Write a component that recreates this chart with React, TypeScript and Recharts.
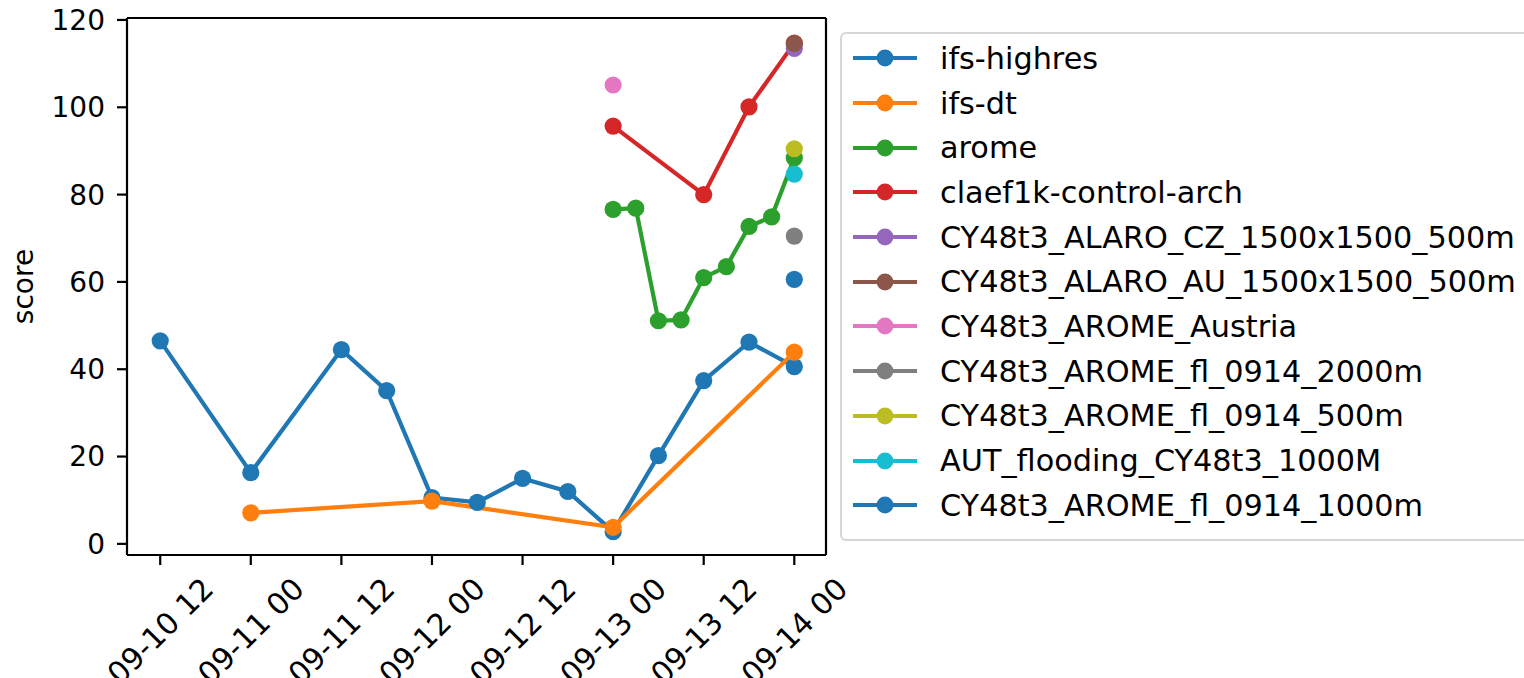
import React from 'react';
import { LineChart, Line, XAxis, YAxis, Legend, ReferenceLine } from 'recharts';

const FONT = '"DejaVu Sans", "Liberation Sans", sans-serif';

// ---- tick labels ----
const xTickLabels = ['09-10 12', '09-11 00', '09-11 12', '09-12 00', '09-12 12', '09-13 00', '09-13 12', '09-14 00'];
const yTicks = [0, 20, 40, 60, 80, 100, 120];

// ---- series names & colours ----
const seriesNames = [
  'ifs-highres',
  'ifs-dt',
  'arome',
  'claef1k-control-arch',
  'CY48t3_ALARO_CZ_1500x1500_500m',
  'CY48t3_ALARO_AU_1500x1500_500m',
  'CY48t3_AROME_Austria',
  'CY48t3_AROME_fl_0914_2000m',
  'CY48t3_AROME_fl_0914_500m',
  'AUT_flooding_CY48t3_1000M',
  'CY48t3_AROME_fl_0914_1000m',
];
const seriesColors = [
  '#1f77b4', '#ff7f0e', '#2ca02c', '#d62728', '#9467bd', '#8c564b',
  '#e377c2', '#7f7f7f', '#bcbd22', '#17becf', '#1f77b4',
];

// ---- series values ----
const ifsHighresTimes = ['09-10 12', '09-11 00', '09-11 12', '09-11 18', '09-12 00', '09-12 06', '09-12 12', '09-12 18', '09-13 00', '09-13 06', '09-13 12', '09-13 18', '09-14 00'];
const ifsHighresValues = [46.5, 16.3, 44.5, 35.1, 10.6, 9.5, 15.0, 12.0, 2.8, 20.2, 37.4, 46.2, 40.6];

const ifsDtTimes = ['09-11 00', '09-12 00', '09-13 00', '09-14 00'];
const ifsDtValues = [7.1, 9.8, 3.8, 43.9];

const aromeTimes = ['09-13 00', '09-13 03', '09-13 06', '09-13 09', '09-13 12', '09-13 15', '09-13 18', '09-13 21', '09-14 00'];
const aromeValues = [76.6, 76.9, 51.1, 51.3, 61.0, 63.5, 72.7, 74.9, 88.4];

const claefTimes = ['09-13 00', '09-13 12', '09-13 18', '09-14 00'];
const claefValues = [95.7, 80.0, 100.1, 114.7];

const alaroCzTimes = ['09-14 00'];
const alaroCzValues = [113.5];
const alaroAuTimes = ['09-14 00'];
const alaroAuValues = [114.6];
const aromeAustriaTimes = ['09-13 00'];
const aromeAustriaValues = [105.1];
const fl2000Times = ['09-14 00'];
const fl2000Values = [70.5];
const fl500Times = ['09-14 00'];
const fl500Values = [90.5];
const autFloodTimes = ['09-14 00'];
const autFloodValues = [84.7];
const fl1000Times = ['09-14 00'];
const fl1000Values = [60.6];

const seriesTimes = [ifsHighresTimes, ifsDtTimes, aromeTimes, claefTimes, alaroCzTimes, alaroAuTimes, aromeAustriaTimes, fl2000Times, fl500Times, autFloodTimes, fl1000Times];
const seriesValues = [ifsHighresValues, ifsDtValues, aromeValues, claefValues, alaroCzValues, alaroAuValues, aromeAustriaValues, fl2000Values, fl500Values, autFloodValues, fl1000Values];

// hours since 09-10 12
const toHours = (s: string) => (parseInt(s.slice(3, 5), 10) - 10) * 24 + parseInt(s.slice(6, 8), 10) - 12;

const xTicks = xTickLabels.map(toHours);
const X_MIN = -4.4;
const X_MAX = 88.2;
const Y_MIN = -2.55;
const Y_MAX = 120.45;

const series = seriesNames.map((name, i) => ({
  name,
  color: seriesColors[i],
  data: seriesTimes[i].map((t, j) => ({ t: toHours(t), v: seriesValues[i][j] })),
}));

const XTick = (props: any) => {
  const { x, y, payload } = props;
  const idx = xTicks.indexOf(payload.value);
  const label = idx >= 0 ? xTickLabels[idx] : '';
  const cx = x;
  const cy = y + 66;
  return (
    <text
      x={cx}
      y={cy}
      transform={`rotate(-45 ${cx} ${cy})`}
      textAnchor="middle"
      dominantBaseline="central"
      fontSize={30}
      fontFamily={FONT}
      fill="#000"
    >
      {label}
    </text>
  );
};

const YLabel = (props: any) => {
  const vb = props.viewBox || { x: 0, y: 18, width: 127, height: 537 };
  const cx = 33;
  const cy = vb.y + vb.height / 2;
  return (
    <text
      x={cx}
      y={cy}
      transform={`rotate(-90 ${cx} ${cy})`}
      textAnchor="middle"
      fontSize={28}
      fontFamily={FONT}
      fill="#000"
    >
      score
    </text>
  );
};

const LegendBox = () => (
  <div
    style={{
      width: 720,
      boxSizing: 'border-box',
      borderTop: '2px solid #d6d6d6',
      borderLeft: '2px solid #d6d6d6',
      borderBottom: '2px solid #d6d6d6',
      borderRight: 'none',
      borderRadius: '6px 0 0 6px',
      background: '#fff',
      paddingTop: 2,
      paddingBottom: 11,
      fontFamily: FONT,
      fontSize: 30.3,
      color: '#000',
    }}
  >
    {series.map((s) => (
      <div key={s.name} style={{ height: 44.7, display: 'flex', alignItems: 'center', whiteSpace: 'nowrap' }}>
        <svg width={64} height={20} style={{ marginLeft: 11, marginRight: 23, flex: 'none' }}>
          <line x1={0} y1={10} x2={64} y2={10} stroke={s.color} strokeWidth={4.2} />
          <circle cx={32} cy={10} r={8.4} fill={s.color} />
        </svg>
        <span>{s.name}</span>
      </div>
    ))}
  </div>
);

export default function App() {
  return (
    <div style={{ position: 'absolute', left: 0, top: 0, width: 1524, height: 678, overflow: 'hidden', background: '#fff' }}>
      <LineChart width={1524} height={678} margin={{ top: 18, right: 698, bottom: 0, left: 0 }}>
        <XAxis
          type="number"
          dataKey="t"
          domain={[X_MIN, X_MAX]}
          ticks={xTicks}
          interval={0}
          allowDataOverflow
          height={123}
          tickSize={10}
          tickMargin={0}
          tickLine={{ stroke: '#000', strokeWidth: 2.2 }}
          axisLine={{ stroke: '#000', strokeWidth: 2.2 }}
          tick={<XTick />}
        />
        <YAxis
          type="number"
          domain={[Y_MIN, Y_MAX]}
          ticks={yTicks}
          interval={0}
          allowDataOverflow
          width={127}
          tickSize={10}
          tickMargin={12}
          tickLine={{ stroke: '#000', strokeWidth: 2.2 }}
          axisLine={{ stroke: '#000', strokeWidth: 2.2 }}
          tick={{ fontSize: 28, fontFamily: FONT, fill: '#000' }}
          label={<YLabel />}
        />
        {series.map((s) => (
          <Line
            key={s.name}
            data={s.data}
            dataKey="v"
            name={s.name}
            stroke={s.color}
            strokeWidth={4.2}
            dot={{ r: 8.6, fill: s.color, stroke: s.color, strokeWidth: 0 }}
            activeDot={false}
            isAnimationActive={false}
          />
        ))}
        <ReferenceLine y={Y_MAX} stroke="#000" strokeWidth={2.2} ifOverflow="visible" />
        <ReferenceLine x={X_MAX} stroke="#000" strokeWidth={2.2} ifOverflow="visible" />
        <Legend
          layout="vertical"
          align="center"
          verticalAlign="middle"
          wrapperStyle={{ left: 840, top: 32, width: 720 }}
          content={() => <LegendBox />}
        />
      </LineChart>
    </div>
  );
}
